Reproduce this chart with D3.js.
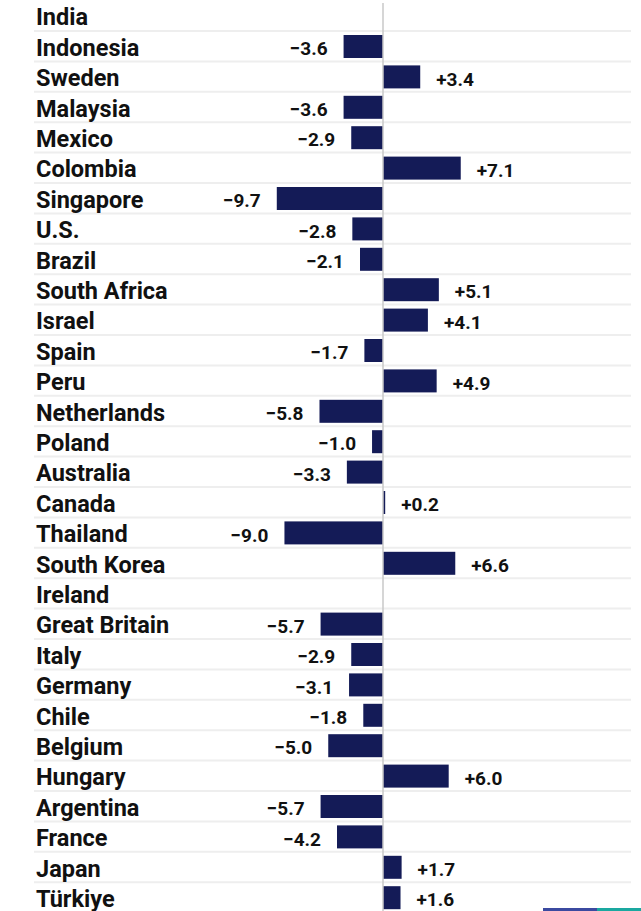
<!DOCTYPE html>
<html>
<head>
<meta charset="utf-8">
<script src="https://cdn.jsdelivr.net/npm/d3@7"></script>
<style>
  html, body { margin: 0; padding: 0; background: #fff; }
  svg { display: block; }
</style>
</head>
<body>
<div id="chart"></div>
<script>
const countries = ["India", "Indonesia", "Sweden", "Malaysia", "Mexico", "Colombia", "Singapore", "U.S.", "Brazil", "South Africa",
  "Israel", "Spain", "Peru", "Netherlands", "Poland", "Australia", "Canada", "Thailand", "South Korea", "Ireland",
  "Great Britain", "Italy", "Germany", "Chile", "Belgium", "Hungary", "Argentina", "France", "Japan", "Türkiye"];
const changes = [null, -3.6, 3.4, -3.6, -2.9, 7.1, -9.7, -2.8, -2.1, 5.1,
  4.1, -1.7, 4.9, -5.8, -1.0, -3.3, 0.2, -9.0, 6.6, null,
  -5.7, -2.9, -3.1, -1.8, -5.0, 6.0, -5.7, -4.2, 1.7, 1.6];

const width = 641, height = 911;
const rowH = 30.4;
const topY = 0.6;

const data = countries.map((c, i) => ({country: c, value: changes[i]}));

const svg = d3.select("#chart").append("svg")
  .attr("width", width)
  .attr("height", height);

const y = d3.scaleBand()
  .domain(countries)
  .range([topY, topY + rowH * countries.length])
  .paddingInner(0);

const x = d3.scaleLinear()
  .domain([0, 10])
  .range([383, 383 + 109.5]);

const fmt = d3.format("+.1f");

// row separators
svg.append("g").selectAll("line")
  .data(countries.slice(1))
  .enter().append("line")
  .attr("x1", 34).attr("x2", 631)
  .attr("y1", d => y(d)).attr("y2", d => y(d))
  .attr("stroke", "#eeeeee")
  .attr("stroke-width", 2);

// country names
svg.append("g").selectAll("text")
  .data(data)
  .enter().append("text")
  .attr("x", 36)
  .attr("y", d => y(d.country) + y.bandwidth() / 2 + 9.5)
  .attr("font-family", "Roboto, sans-serif")
  .attr("font-weight", 700)
  .attr("font-size", 23.5)
  .attr("fill", "#111")
  .text(d => d.country);

const withVal = data.filter(d => d.value !== null);

// bars
svg.append("g").selectAll("rect")
  .data(withVal)
  .enter().append("rect")
  .attr("x", d => Math.min(x(0), x(d.value)))
  .attr("y", d => y(d.country) + 4)
  .attr("width", d => Math.abs(x(d.value) - x(0)))
  .attr("height", 23)
  .attr("fill", "#141b57");

// value labels
svg.append("g").selectAll("text")
  .data(withVal)
  .enter().append("text")
  .attr("x", d => d.value < 0 ? x(d.value) - 16 : x(d.value) + 16)
  .attr("y", d => y(d.country) + y.bandwidth() / 2 + 9)
  .attr("text-anchor", d => d.value < 0 ? "end" : "start")
  .attr("font-family", "Roboto, sans-serif")
  .attr("font-weight", 700)
  .attr("font-size", 19)
  .attr("fill", "#111")
  .text(d => fmt(d.value));

// zero line
svg.append("line")
  .attr("x1", x(0)).attr("x2", x(0))
  .attr("y1", 3).attr("y2", height)
  .attr("stroke", "#c8c8c8")
  .attr("stroke-width", 1.5);

// bottom colour strip
svg.append("rect").attr("x", 543).attr("y", 908).attr("width", 54).attr("height", 3).attr("fill", "#3b4aa0");
svg.append("rect").attr("x", 597).attr("y", 908).attr("width", 44).attr("height", 3).attr("fill", "#1aa8a0");
</script>
</body>
</html>
